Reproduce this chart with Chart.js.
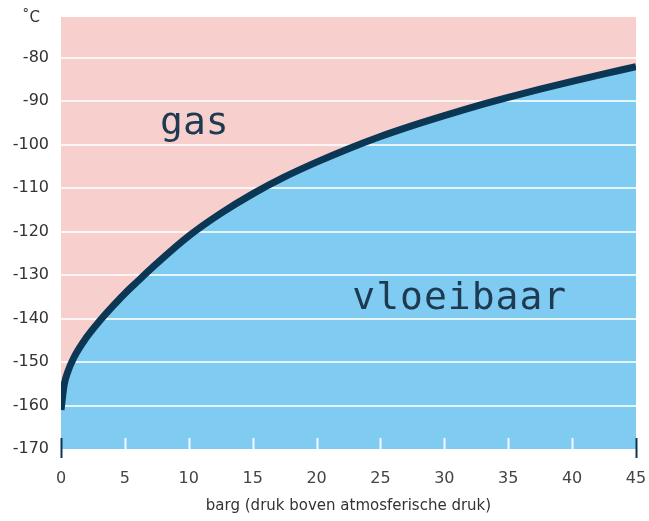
<!DOCTYPE html>
<html>
<head>
<meta charset="utf-8">
<script src="https://cdn.jsdelivr.net/npm/chart.js@4/dist/chart.umd.min.js"></script>
<style>
html,body{margin:0;padding:0;background:#ffffff;}
#wrap{position:relative;width:649px;height:521px;}
</style>
</head>
<body>
<div id="wrap"><canvas id="c"></canvas></div>
<script>
// Pressure (barg) and boiling temperature (°C)
const pressure    = [0, 0.25, 0.5, 1, 2, 3, 4, 5, 6, 7.5, 10, 12.5, 15, 17.5, 20, 22.5, 25, 27.5, 30, 32.5, 35, 37.5, 40, 42.5, 45];
const temperature = [-161, -155.2, -152.5, -149, -144.3, -140.6, -137.3, -134.2, -131.4, -127.3, -121, -115.8, -111.3, -107.4, -104, -100.9, -98.1, -95.6, -93.3, -91.1, -89.1, -87.2, -85.4, -83.7, -82];
const xTickValues = [0, 5, 10, 15, 20, 25, 30, 35, 40, 45];
const yTickValues = [-170, -160, -150, -140, -130, -120, -110, -100, -90, -80];
const regionLabels = ["gas", "vloeibaar"];
const regionAnchors = [[7.75, -97.5], [22.8, -137.8]];
const unitLabel = "˚C";
const xTitle = "barg (druk boven atmosferische druk)";

const PINK = "#F7CFCD";
const BLUE = "#80CBF1";
const NAVY = "#0B3654";

const points = pressure.map((p, i) => ({x: p, y: temperature[i]}));

const decor = {
  id: "decor",
  afterDatasetsDraw(chart) {
    const ctx = chart.ctx;
    const xs = chart.scales.x, ys = chart.scales.y;
    const area = chart.chartArea;
    ctx.save();
    // bottom tick marks
    xTickValues.forEach((v, i) => {
      const px = Math.round(xs.getPixelForValue(v)) + 0.5;
      const edge = (i === 0 || i === xTickValues.length - 1);
      ctx.beginPath();
      ctx.strokeStyle = edge ? NAVY : "rgba(255,255,255,0.9)";
      ctx.lineWidth = 2;
      ctx.moveTo(px, area.bottom - 11);
      ctx.lineTo(px, edge ? area.bottom + 9 : area.bottom);
      ctx.stroke();
    });
    // region labels
    ctx.fillStyle = "#1E3A52";
    ctx.font = "38px 'DejaVu Sans Mono'";
    ctx.textAlign = "left";
    ctx.textBaseline = "alphabetic";
    regionLabels.forEach((t, i) => {
      ctx.letterSpacing = i === 1 ? "1px" : "0px";
      ctx.fillText(t, xs.getPixelForValue(regionAnchors[i][0]), ys.getPixelForValue(regionAnchors[i][1]));
    });
    ctx.letterSpacing = "0px";
    // unit
    ctx.fillStyle = "#333333";
    ctx.font = "15px 'DejaVu Sans'";
    ctx.textAlign = "right";
    ctx.textBaseline = "top";
    ctx.fillText(unitLabel, area.left - 21, 11);
    ctx.restore();
  }
};

new Chart(document.getElementById("c"), {
  type: "line",
  data: {
    datasets: [
      {
        data: points,
        fill: "end",
        backgroundColor: PINK,
        borderWidth: 0,
        pointRadius: 0,
        cubicInterpolationMode: "monotone",
        clip: 0
      },
      {
        data: points,
        fill: "start",
        backgroundColor: BLUE,
        borderColor: NAVY,
        borderWidth: 7,
        pointRadius: 0,
        cubicInterpolationMode: "monotone",
        clip: 0
      }
    ]
  },
  options: {
    responsive: true,
    maintainAspectRatio: false,
    animation: false,
    layout: {padding: {top: 17, right: 13, left: 0, bottom: 0}},
    plugins: {
      legend: {display: false},
      tooltip: {enabled: false},
      filler: {drawTime: "beforeDraw"}
    },
    scales: {
      x: {
        type: "linear",
        min: 0,
        max: 45,
        afterBuildTicks: s => { s.ticks = xTickValues.map(v => ({value: v})); },
        afterFit: s => { s.height = 72; s.paddingLeft = 0; s.paddingRight = 0; },
        grid: {display: false, drawTicks: false},
        border: {display: false},
        ticks: {
          color: "#444444",
          font: {family: "'DejaVu Sans'", size: 16},
          padding: 20,
          maxRotation: 0
        },
        title: {
          display: true,
          text: xTitle,
          color: "#333333",
          font: {family: "'DejaVu Sans'", size: 15},
          padding: {top: 0, bottom: 6}
        }
      },
      y: {
        type: "linear",
        min: -170,
        max: -70.6,
        afterBuildTicks: s => { s.ticks = yTickValues.map(v => ({value: v})); },
        afterFit: s => { s.width = 61; s.paddingTop = 0; s.paddingBottom = 0; },
        grid: {
          drawTicks: false,
          lineWidth: 2,
          color: c => (c.tick && c.tick.value === -170) ? "rgba(0,0,0,0)" : "rgba(255,255,255,0.8)"
        },
        border: {display: false},
        ticks: {
          color: "#333333",
          font: {family: "'DejaVu Sans'", size: 16},
          padding: 12
        }
      }
    }
  },
  plugins: [decor]
});
</script>
</body>
</html>
